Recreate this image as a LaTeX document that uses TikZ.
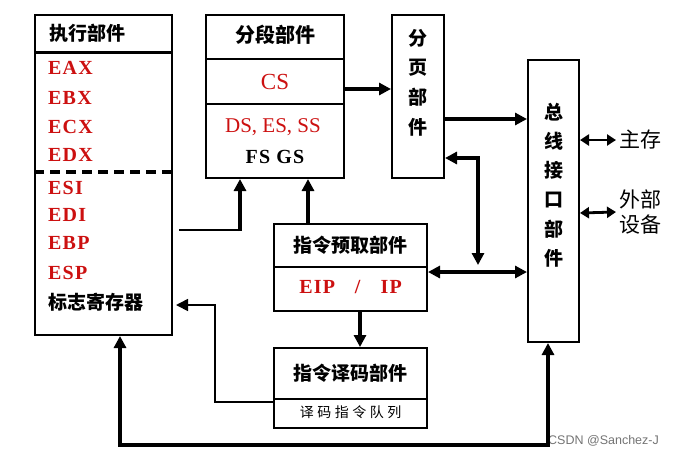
\documentclass[tikz,border=0pt]{standalone}
\usepackage{fontspec}
\usepackage{tikz}
\usetikzlibrary{arrows.meta}
\setmainfont{Liberation Serif}
\newfontfamily\cjk{Noto Sans CJK SC}
\newfontfamily\cjkw{Noto Sans CJK SC}[LetterSpace=25]
\newfontfamily\regfont{Liberation Serif}[LetterSpace=6]
\newfontfamily\wmfont{Liberation Sans}
\definecolor{regred}{RGB}{204,16,16}

\tikzset{
  box/.style={draw, line width=2pt, inner sep=0pt},
  title/.style={font=\cjk\bfseries\fontsize{19}{19}\selectfont},
  reg/.style={font=\regfont\bfseries\fontsize{20}{20}\selectfont, text=regred, anchor=west, inner sep=0pt},
  thickarr/.style={line width=3.2pt, -{Triangle[length=12pt,width=12pt]}},
  bothways/.style={line width=3.2pt, {Triangle[length=12pt,width=12pt]}-{Triangle[length=12pt,width=12pt]}},
  thinarr/.style={line width=1.6pt, -{Triangle[length=12pt,width=12pt]}},
}

\begin{document}
\begin{tikzpicture}[x=1pt,y=-1pt]
\useasboundingbox (0,0) rectangle (680,456);

% boxes
\node[box, minimum width=137pt, minimum height=320pt] (exe) at (103.5,175) {};
\node[box, minimum width=138pt, minimum height=163pt] (seg) at (275,96.5) {};
\node[box, minimum width=52pt, minimum height=163pt] (pg) at (418,96.5) {};
\node[box, minimum width=51pt, minimum height=282pt] (biu) at (553.5,201) {};
\node[box, minimum width=153pt, minimum height=87pt] (pf) at (350.5,267.5) {};
\node[box, minimum width=153pt, minimum height=80pt] (dec) at (350.5,388) {};

% dividers
\draw[line width=3pt] (exe.west |- 0,52) -- (exe.east |- 0,52);
\draw[line width=3.6pt, dash pattern=on 10pt off 6pt] (exe.west |- 0,172) -- (exe.east |- 0,172);
\draw[line width=2pt] (seg.west |- 0,59) -- (seg.east |- 0,59);
\draw[line width=2pt] (seg.west |- 0,104) -- (seg.east |- 0,104);
\draw[line width=2pt] (pf.west |- 0,267) -- (pf.east |- 0,267);
\draw[line width=2pt] (dec.west |- 0,399) -- (dec.east |- 0,399);

% execution unit
\node[title, anchor=west] (exet) at (46,33) {执行部件};
\foreach \r/\y in {EAX/68, EBX/98, ECX/127, EDX/155, ESI/188, EDI/215, EBP/243, ESP/273}
  \node[reg] (\r) at (48,\y) {\r};
\node[title, anchor=west, inner sep=0pt] (flags) at (48,302) {标志寄存器};

% segment unit
\node[title, font=\cjk\bfseries\fontsize{20}{20}\selectfont] (segt) at (275,35) {分段部件};
\node[text=regred, font=\fontsize{23}{23}\selectfont] (cs) at (275,82) {CS};
\node[text=regred, font=\fontsize{21}{21}\selectfont] (dss) at (273,127) {DS, ES, SS};
\node[font=\regfont\bfseries\fontsize{20}{20}\selectfont] (fgs) at (275,157) {FS GS};

% paging and bus units
\node[title, align=center, font=\cjk\bfseries\fontsize{19}{29.7}\selectfont] (pgt) at (418,82.5) {分\\页\\部\\件};
\node[title, align=center, font=\cjk\bfseries\fontsize{19}{29.2}\selectfont] (biut) at (553.5,185) {总\\线\\接\\口\\部\\件};

% prefetch and decode units
\node[title] (pft) at (350.5,245) {指令预取部件};
\node[reg, anchor=center] (eip) at (350.5,287) {EIP\hspace{20pt}/\hspace{20pt}IP};
\node[title] (dect) at (350.5,373) {指令译码部件};
\node[font=\cjkw\fontsize{14}{14}\selectfont] (queue) at (350.5,412) {译码指令队列};

% memory and devices
\node[font=\cjk\fontsize{21}{21}\selectfont, anchor=west] (mem) at (616,140) {主存};
\node[font=\cjk\fontsize{21}{25}\selectfont, anchor=west, align=left] (dev) at (616,212) {外部\\设备};
\node[font=\wmfont\fontsize{12.5}{12.5}\selectfont, text=black!55, anchor=west, inner sep=0pt] (wm) at (548,441) {CSDN @Sanchez-J};

% connectors
\coordinate (exeout) at (179,230);
\coordinate (flagin) at (176,305);
\draw[line width=1.6pt] (exeout) -- (240,230);
\draw[thickarr] (240,231) -- (seg.south -| 240,0);
\draw[thickarr] (pf.north -| 308,0) -- (seg.south -| 308,0);
\draw[thickarr] (seg.east |- 0,89) -- (pg.west |- 0,89);
\draw[thickarr] (pg.east |- 0,119) -- (biu.west |- 0,119);
\draw[bothways] (pg.east |- 0,158) -- (478,158) -- (478,265);
\draw[bothways] (pf.east |- 0,272) -- (biu.west |- 0,272);
\draw[thickarr] (pf.south -| 360,0) -- (dec.north -| 360,0);
\draw[thinarr] (dec.west |- 0,402) -- (215,402) -- (215,305) -- (flagin);
\draw[bothways] (exe.south -| 120,0) -- (120,445) -- (548,445) -- (biu.south -| 548,0);
\draw[line width=2.8pt, {Triangle[length=9pt,width=11pt]}-{Triangle[length=9pt,width=11pt]}] (biu.east |- 0,140) -- (mem.west);
\draw[line width=2.8pt, {Triangle[length=9pt,width=11pt]}-{Triangle[length=9pt,width=11pt]}] (biu.east |- 0,213) -- (dev.west);
\end{tikzpicture}
\end{document}
